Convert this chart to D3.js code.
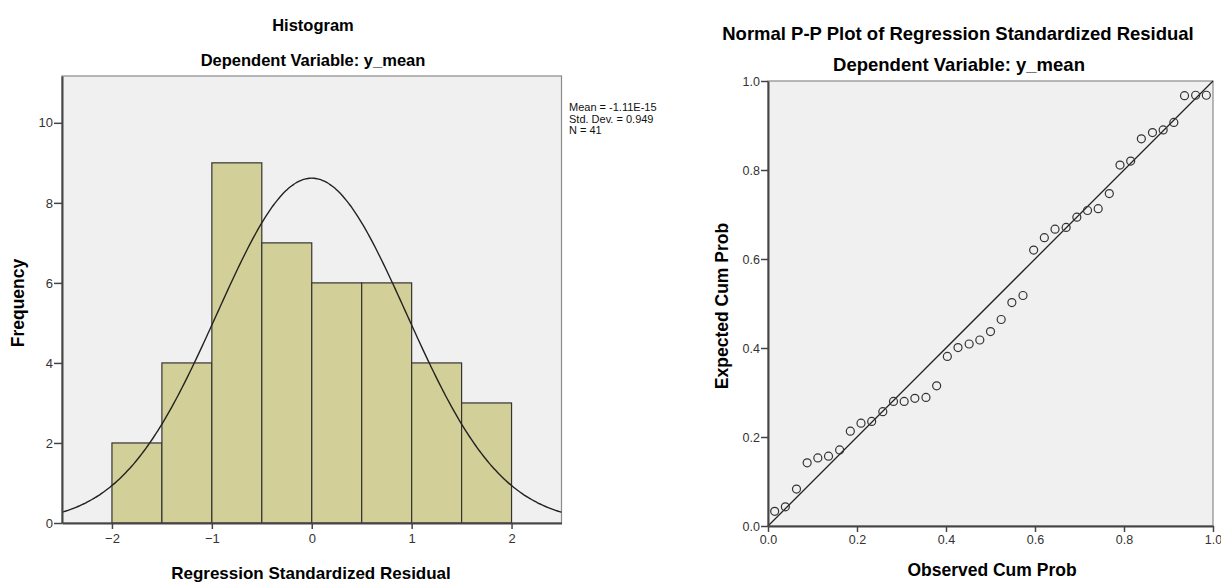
<!DOCTYPE html>
<html><head><meta charset="utf-8">
<script src="https://cdn.jsdelivr.net/npm/d3@7"></script>
<style>
body{margin:0;background:#fff;}
text{font-family:"Liberation Sans",Arial,sans-serif;}
</style></head>
<body><svg id="c" width="1221" height="585"></svg>
<script>
// ---- Histogram data ----
const binStarts = [-2, -1.5, -1, -0.5, 0, 0.5, 1, 1.5];
const binWidth = 0.5;
const binCounts = [2, 4, 9, 7, 6, 6, 4, 3];
const histXTicks = [-2, -1, 0, 1, 2];
const histYTicks = [0, 2, 4, 6, 8, 10];
const statsMean = -1.11e-15, statsSD = 0.949, statsN = 41;
const statsLabels = ["Mean = -1.11E-15", "Std. Dev. = 0.949", "N = 41"];

// ---- P-P plot data ----
const observedCum = [0.015,0.039,0.064,0.088,0.112,0.136,0.161,0.185,0.209,0.233,0.258,0.282,0.306,0.330,0.355,0.379,0.403,0.427,0.452,0.476,0.500,0.524,0.548,0.573,0.597,0.621,0.645,0.670,0.694,0.718,0.742,0.767,0.791,0.815,0.839,0.864,0.888,0.912,0.936,0.961,0.985];
const expectedCum = [0.033,0.043,0.083,0.142,0.153,0.157,0.171,0.213,0.231,0.235,0.257,0.280,0.280,0.287,0.289,0.315,0.381,0.401,0.409,0.418,0.437,0.464,0.502,0.518,0.620,0.648,0.667,0.671,0.694,0.709,0.713,0.747,0.811,0.820,0.870,0.884,0.890,0.907,0.967,0.968,0.968];
const ppTicks = [0, 0.2, 0.4, 0.6, 0.8, 1.0];

const svg = d3.select("#c");
const axisColor = "#444";

function styleAxis(a, fs) {
  a.select(".domain").attr("stroke", axisColor).attr("stroke-width", 2);
  a.selectAll(".tick line").attr("stroke", axisColor).attr("stroke-width", 1.5);
  a.selectAll(".tick text").attr("fill", "#333").style("font-size", fs + "px").style("font-family", "Liberation Sans, Arial, sans-serif");
}

// ===== Histogram =====
const hx = d3.scaleLinear().domain([-2.5, 2.5]).range([62, 561.5]);
const hy = d3.scaleLinear().domain([0, 11.17]).range([523, 76]);
const g1 = svg.append("g");
g1.append("rect").attr("x", hx(-2.5)).attr("y", hy(11.17)).attr("width", hx(2.5)-hx(-2.5)).attr("height", hy(0)-hy(11.17))
  .attr("fill", "#f0f0f0").attr("stroke", "#8a8a8a").attr("stroke-width", 1.2);

g1.selectAll("rect.bar").data(binStarts).join("rect").attr("class","bar")
  .attr("x", d => hx(d)).attr("width", d => hx(d+binWidth)-hx(d))
  .attr("y", (d,i) => hy(binCounts[i])).attr("height", (d,i) => hy(0)-hy(binCounts[i]))
  .attr("fill", "#d3cf98").attr("stroke", "#333").attr("stroke-width", 1.2);

// normal curve from summary stats
const curveXs = d3.range(-2.5, 2.5001, 0.02);
const scaleF = statsN*binWidth/(statsSD*Math.sqrt(2*Math.PI));
const line1 = d3.line().x(d => hx(d)).y(d => hy(scaleF*Math.exp(-0.5*Math.pow((d-statsMean)/statsSD,2)))).curve(d3.curveBasis);
g1.append("path").datum(curveXs).attr("d", line1).attr("fill","none").attr("stroke","#222").attr("stroke-width",1.4);

const hxAxis = g1.append("g").attr("transform", `translate(0,${hy(0)})`)
  .call(d3.axisBottom(hx).tickValues(histXTicks).tickFormat(d3.format("d")).tickSize(6).tickSizeOuter(0));
const hyAxis = g1.append("g").attr("transform", `translate(${hx(-2.5)},0)`)
  .call(d3.axisLeft(hy).tickValues(histYTicks).tickFormat(d3.format("d")).tickSize(8).tickSizeOuter(0));
styleAxis(hxAxis, 13); styleAxis(hyAxis, 13);
hxAxis.selectAll(".tick text").attr("dy", "0.85em");
hyAxis.selectAll(".tick text").attr("x", -9);

g1.append("text").attr("x", 313).attr("y", 31).attr("text-anchor","middle").style("font-size","16.5px").style("font-weight","bold").text("Histogram");
g1.append("text").attr("x", 313).attr("y", 66).attr("text-anchor","middle").style("font-size","16.5px").style("font-weight","bold").text("Dependent Variable: y_mean");
g1.append("text").attr("x", 311).attr("y", 579).attr("text-anchor","middle").style("font-size","17px").style("font-weight","bold").text("Regression Standardized Residual");
g1.append("text").attr("transform","translate(24,303) rotate(-90)").attr("text-anchor","middle").style("font-size","17.5px").style("font-weight","bold").text("Frequency");
g1.selectAll("text.stat").data(statsLabels).join("text").attr("class","stat")
  .attr("x", 569).attr("y", (d,i) => 111 + i*11.5).style("font-size","11px").attr("fill","#111").text(d => d);

// ===== P-P plot =====
const px = d3.scaleLinear().domain([0, 1]).range([768, 1213]);
const py = d3.scaleLinear().domain([0, 1]).range([526, 81]);
const g2 = svg.append("g");
g2.append("rect").attr("x", px(0)).attr("y", py(1)).attr("width", px(1)-px(0)).attr("height", py(0)-py(1))
  .attr("fill", "#f0f0f0").attr("stroke", "#8a8a8a").attr("stroke-width", 1.2);
g2.append("line").attr("x1", px(0)).attr("y1", py(0)).attr("x2", px(1)).attr("y2", py(1)).attr("stroke", "#222").attr("stroke-width", 1.3);
g2.selectAll("circle").data(observedCum).join("circle")
  .attr("cx", d => px(d)).attr("cy", (d,i) => py(expectedCum[i])).attr("r", 4)
  .attr("fill", "none").attr("stroke", "#333").attr("stroke-width", 1.2);

const pxAxis = g2.append("g").attr("transform", `translate(0,${py(0)})`)
  .call(d3.axisBottom(px).tickValues(ppTicks).tickFormat(d3.format(".1f")).tickSize(6).tickSizeOuter(0));
const pyAxis = g2.append("g").attr("transform", `translate(${px(0)},0)`)
  .call(d3.axisLeft(py).tickValues(ppTicks).tickFormat(d3.format(".1f")).tickSize(7).tickSizeOuter(0));
styleAxis(pxAxis, 12.5); styleAxis(pyAxis, 12.5);
pxAxis.selectAll(".tick text").attr("dy", "0.75em");
pyAxis.selectAll(".tick text").attr("x", -8);

g2.append("text").attr("x", 958).attr("y", 40).attr("text-anchor","middle").style("font-size","18.5px").style("font-weight","bold").text("Normal P-P Plot of Regression Standardized Residual");
g2.append("text").attr("x", 959).attr("y", 71).attr("text-anchor","middle").style("font-size","18.5px").style("font-weight","bold").text("Dependent Variable: y_mean");
g2.append("text").attr("x", 992).attr("y", 576).attr("text-anchor","middle").style("font-size","17.5px").style("font-weight","bold").text("Observed Cum Prob");
g2.append("text").attr("transform","translate(728,306) rotate(-90)").attr("text-anchor","middle").style("font-size","17.5px").style("font-weight","bold").text("Expected Cum Prob");
</script></body></html>
